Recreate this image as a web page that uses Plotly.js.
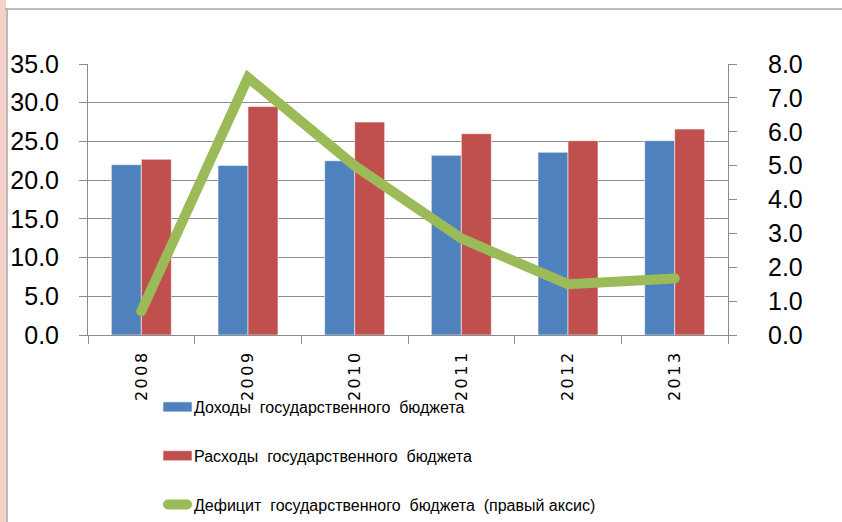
<!DOCTYPE html>
<html>
<head>
<meta charset="utf-8">
<script src="https://cdn.plot.ly/plotly-3.0.1.min.js"></script>
<style>
  html, body { margin: 0; padding: 0; background: #fff; }
  #chart { width: 842px; height: 522px; }
  .xtick text { letter-spacing: 2.5px; }
  path.js-line { stroke-linecap: round !important; }
</style>
</head>
<body>
<div id="chart"></div>
<script>
const years = ['2008', '2009', '2010', '2011', '2012', '2013'];
const revenue = [22.0, 21.9, 22.5, 23.2, 23.6, 25.1];
const expenditure = [22.7, 29.5, 27.5, 26.0, 25.1, 26.6];
const deficit = [0.7, 7.6, 5.0, 2.85, 1.5, 1.67];

const nameRevenue = 'Доходы  государственного  бюджета';
const nameExpenditure = 'Расходы  государственного  бюджета';
const nameDeficit = 'Дефицит  государственного  бюджета  (правый аксис)';

const traces = [
  {
    type: 'bar', x: years, y: revenue, name: nameRevenue, legendgroup: 'a',
    marker: { color: '#4F81BD', line: { color: 'rgba(255,255,255,0.55)', width: 1 } },
    yaxis: 'y'
  },
  {
    type: 'bar', x: years, y: expenditure, name: nameExpenditure, legendgroup: 'b',
    marker: { color: '#C0504D', line: { color: 'rgba(255,255,255,0.55)', width: 1 } },
    yaxis: 'y'
  },
  {
    type: 'scatter', mode: 'lines', x: years, y: deficit, name: nameDeficit, legendgroup: 'c',
    line: { color: '#9BBB59', width: 10 },
    yaxis: 'y2'
  }
];

const gray = '#8c8c8c';
const labelFont = { family: 'Liberation Sans, Arial, sans-serif', size: 25, color: '#000' };
const layout = {
  width: 842, height: 522,
  margin: { l: 88, r: 114, t: 64, b: 187, autoexpand: false },
  paper_bgcolor: '#ffffff', plot_bgcolor: '#ffffff',
  barmode: 'group', bargap: 0.4375, bargroupgap: 0,
  showlegend: true,
  legend: {
    x: 66 / 640, y: -55 / 271, xanchor: 'left', yanchor: 'top',
    orientation: 'v', traceorder: 'grouped', tracegroupgap: 25,
    font: { family: 'Liberation Sans, Arial, sans-serif', size: 16, color: '#000' },
    bgcolor: 'rgba(0,0,0,0)'
  },
  xaxis: {
    type: 'category', automargin: false,
    showline: true, linecolor: gray, linewidth: 1,
    ticks: 'outside', tickson: 'boundaries', ticklen: 8, tickcolor: gray,
    tickangle: -90, ticklabelstandoff: 8,
    tickfont: { family: 'DejaVu Sans, sans-serif', size: 16, color: '#000' },
    showgrid: false, zeroline: false, fixedrange: true
  },
  yaxis: {
    range: [0, 35], dtick: 5, tick0: 0, tickformat: '.1f', automargin: false,
    showline: true, linecolor: gray, linewidth: 1,
    ticks: 'outside', ticklen: 8, tickcolor: gray,
    showgrid: true, gridcolor: gray, gridwidth: 1,
    zeroline: false,
    ticklabelstandoff: 15,
    tickfont: labelFont
  },
  yaxis2: {
    range: [0, 8], dtick: 1, tick0: 0, tickformat: '.1f', automargin: false,
    overlaying: 'y', side: 'right',
    showline: true, linecolor: gray, linewidth: 1,
    ticks: 'outside', ticklen: 8, tickcolor: gray,
    showgrid: false, zeroline: false,
    ticklabelstandoff: 26,
    tickfont: labelFont
  },
  shapes: [
    { type: 'rect', xref: 'paper', yref: 'paper', layer: 'below',
      x0: -88/640, x1: -82/640, y0: -200/271, y1: 340/271,
      fillcolor: '#f7cfcb', line: { width: 0 } },
    { type: 'line', xref: 'paper', yref: 'paper',
      x0: -81/640, x1: -81/640, y0: -200/271, y1: 326/271,
      line: { color: '#a6a6a6', width: 1.5 } },
    { type: 'line', xref: 'paper', yref: 'paper',
      x0: -83/640, x1: 770/640, y0: 326/271, y1: 326/271,
      line: { color: '#a6a6a6', width: 1.5 } }
  ]
};

Plotly.newPlot('chart', traces, layout, { displayModeBar: false, staticPlot: true }).then(function (gd) {
  // reshape the legend swatches to the flat rectangles / short thick line of the reference
  gd.querySelectorAll('.legend .traces').forEach(function (t) {
    const line = t.querySelector('.legendlines path');
    if (line) {
      line.setAttribute('d', 'M14,0h19');
    } else {
      const p = t.querySelector('.legendpoints path');
      if (p) p.setAttribute('d', 'M-11,5H18V-5H-11Z');
    }
  });
});
</script>
</body>
</html>
